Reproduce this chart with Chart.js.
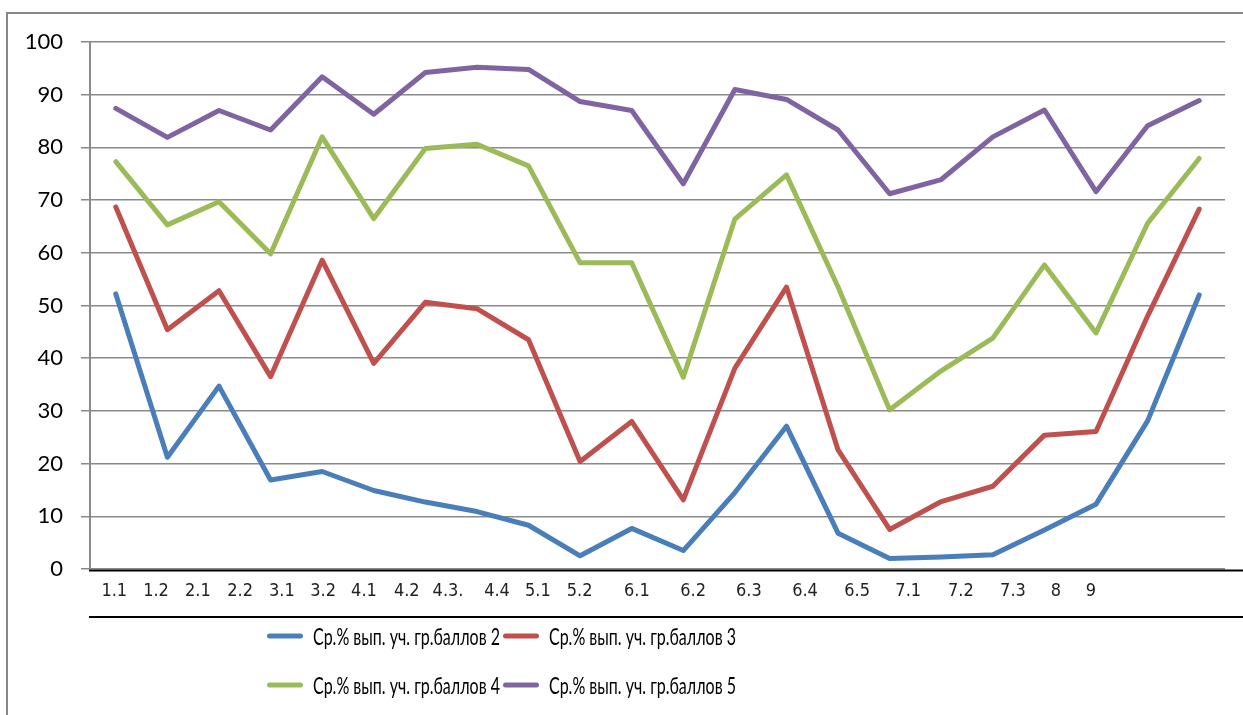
<!DOCTYPE html>
<html><head><meta charset="utf-8">
<script src="https://cdn.jsdelivr.net/npm/chart.js@4/dist/chart.umd.min.js"></script>
<style>html,body{margin:0;padding:0;background:#fff;overflow:hidden}canvas{display:block}</style>
</head><body>
<canvas id="c" width="1243" height="715"></canvas>
<script>
// ---- data ----
const categories = ['1.1','1.2','2.1','2.2','3.1','3.2','4.1','4.2','4.3.','4.4','5.1','5.2','6.1','6.2','6.3','6.4','6.5','7.1','7.2','7.3','8','9'];
const seriesNames = ['Ср.% вып. уч. гр.баллов 2','Ср.% вып. уч. гр.баллов 3','Ср.% вып. уч. гр.баллов 4','Ср.% вып. уч. гр.баллов 5'];
const grade2 = [52.2, 21.2, 34.7, 16.9, 18.5, 14.9, 12.7, 10.9, 8.3, 2.5, 7.7, 3.5, 14.5, 27.1, 6.8, 2.0, 2.3, 2.7, 7.4, 12.3, 28.1, 52.0];
const grade3 = [68.7, 45.4, 52.8, 36.5, 58.6, 39.0, 50.6, 49.4, 43.5, 20.4, 28.0, 13.1, 38.1, 53.5, 22.6, 7.5, 12.8, 15.7, 25.4, 26.1, 48.0, 68.3];
const grade4 = [77.3, 65.3, 69.7, 59.8, 82.0, 66.5, 79.8, 80.6, 76.5, 58.1, 58.1, 36.4, 66.4, 74.8, 53.5, 30.2, 37.6, 43.8, 57.7, 44.8, 65.6, 77.9];
const grade5 = [87.4, 81.9, 87.0, 83.3, 93.4, 86.3, 94.2, 95.2, 94.8, 88.7, 87.0, 73.1, 91.0, 89.1, 83.3, 71.2, 73.9, 82.0, 87.1, 71.6, 84.1, 88.9];
const yMin = 0, yMax = 100, yStep = 10;

// ---- layout / style ----
// where each category label sits along the category axis (in category units, as in the original)
const tickSlots = [-0.03, 0.78, 1.59, 2.41, 3.22, 4.02, 4.81, 5.64, 6.44, 7.39, 8.18, 8.99, 10.10, 11.19, 12.27, 13.36, 14.37, 15.36, 16.38, 17.39, 18.22, 18.90];
const colors = ['#4A7EBB', '#C0504D', '#9BBB59', '#8064A2'];
const legendCols = [267, 503];
const legendRows = [67, 116];

const series = [grade2, grade3, grade4, grade5];

const decor = {
  id: 'decor',
  beforeDraw(chart) {
    const {ctx, width, height} = chart;
    ctx.save();
    ctx.fillStyle = '#fff';
    ctx.fillRect(0, 0, width, height);
    ctx.strokeStyle = '#878787';
    ctx.lineWidth = 2;
    ctx.strokeRect(7, 13, width + 40, height + 40);
    ctx.restore();
  },
  beforeDatasetsDraw(chart) {
    const {ctx, chartArea: a, width} = chart;
    ctx.save();
    ctx.strokeStyle = '#000';
    ctx.lineWidth = 2;
    ctx.beginPath();
    ctx.moveTo(a.left - 1, a.bottom + 1.5); ctx.lineTo(width, a.bottom + 1.5);
    ctx.moveTo(a.left - 1, a.bottom + 48); ctx.lineTo(width, a.bottom + 48);
    ctx.stroke();
    ctx.restore();
  },
  afterDraw(chart) {
    const {ctx, chartArea: a} = chart;
    ctx.save();
    seriesNames.forEach((n, i) => {
      const x = legendCols[i % 2], y = a.bottom + legendRows[Math.floor(i / 2)];
      ctx.strokeStyle = colors[i];
      ctx.lineWidth = 5;
      ctx.lineCap = 'round';
      ctx.beginPath(); ctx.moveTo(x + 2.5, y); ctx.lineTo(x + 33.5, y); ctx.stroke();
      ctx.fillStyle = '#000';
      ctx.font = '24px Lato';
      ctx.textBaseline = 'middle';
      ctx.textAlign = 'left';
      ctx.fillText(n, x + 46, y + 1, 187);
    });
    ctx.restore();
  }
};

new Chart(document.getElementById('c'), {
  type: 'line',
  data: {
    labels: categories,
    datasets: series.map((d, i) => ({
      label: seriesNames[i],
      data: d,
      borderColor: colors[i],
      backgroundColor: colors[i],
      borderWidth: 5,
      pointRadius: 0,
      pointHoverRadius: 0,
      tension: 0,
      borderCapStyle: 'round',
      borderJoinStyle: 'round',
      fill: false,
      order: 3 - i
    }))
  },
  options: {
    responsive: false,
    animation: false,
    devicePixelRatio: 1,
    events: [],
    layout: { padding: { left: 20, top: 42, right: 18, bottom: 98 } },
    plugins: { legend: { display: false }, tooltip: { enabled: false }, title: { display: false } },
    scales: {
      x: {
        offset: true,
        grid: { display: false, drawTicks: false },
        border: { display: false },
        ticks: {
          autoSkip: false, maxRotation: 0, minRotation: 0, padding: 12,
          color: '#222',
          font: { family: "'Liberation Sans Narrow', 'DejaVu Sans Condensed', 'Liberation Sans', sans-serif", size: 18 },
          callback: (v, i) => categories[i]
        },
        afterBuildTicks(s) { s.ticks = tickSlots.map(v => ({ value: v })); },
        afterFit(s) { s.height = 48; }
      },
      y: {
        min: yMin, max: yMax,
        ticks: { stepSize: yStep, padding: 18, color: '#000', font: { family: 'Lato', size: 22 } },
        grid: { color: '#8a8a8a', lineWidth: 1.5, tickLength: 9, drawTicks: true },
        border: { color: '#8a8a8a', width: 2 },
        afterFit(s) { s.width = 70; }
      }
    }
  },
  plugins: [decor]
});
</script>
</body></html>
